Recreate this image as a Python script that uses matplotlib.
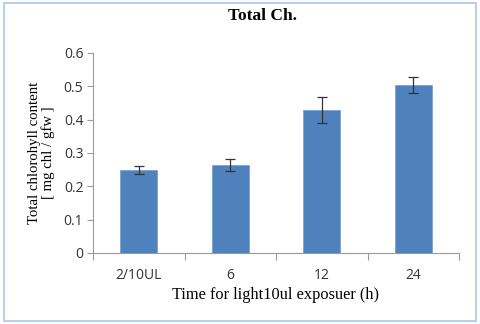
import matplotlib.pyplot as plt
from matplotlib.patches import Rectangle

categories = ["2/10UL", "6", "12", "24"]
values = [0.249, 0.264, 0.429, 0.503]
errors = [0.011, 0.018, 0.040, 0.024]

fig = plt.figure(figsize=(4.8, 3.24), dpi=100)
ax = fig.add_axes([93 / 480, 1 - 253 / 324, (459 - 93) / 480, 200 / 324])

x = range(len(categories))
ax.bar(x, values, width=0.4, color="#4F81BD", edgecolor="#7BA2D2", linewidth=0.6,
       yerr=errors, error_kw=dict(ecolor="#333333", elinewidth=0.9, capsize=3.5, capthick=0.9))

ax.set_xlim(-0.5, len(categories) - 0.5)
ax.set_ylim(0, 0.6)
ax.set_yticks([0, 0.1, 0.2, 0.3, 0.4, 0.5, 0.6])
ax.set_yticklabels(["0", "0.1", "0.2", "0.3", "0.4", "0.5", "0.6"])
ax.set_xticks(list(x))
ax.set_xticklabels(categories)
ax.set_xticks([i - 0.5 for i in range(len(categories) + 1)], minor=True)
ax.tick_params(axis="x", which="major", length=0, pad=11)
ax.tick_params(axis="x", which="minor", length=5, color="#999999", width=0.8)
ax.tick_params(axis="y", length=4, color="#999999", width=0.8, pad=3)
for lab in ax.get_xticklabels() + ax.get_yticklabels():
    lab.set_fontfamily("Open Sans")
    lab.set_fontsize(10)
    lab.set_color("#333333")

for s in ["top", "right"]:
    ax.spines[s].set_visible(False)
for s in ["left", "bottom"]:
    ax.spines[s].set_color("#999999")
    ax.spines[s].set_linewidth(0.8)

ax.set_xlabel("Time for light10ul exposuer (h)", family="Liberation Serif", fontsize=11.8, labelpad=3)
ax.set_ylabel("Total chlorohyll content\n[ mg chl / gfw ]", family="Liberation Serif",
              fontsize=10.6, labelpad=6, linespacing=1.05)
fig.text(263 / 480, 1 - 16 / 324, "Total Ch.", family="Liberation Serif", fontsize=12.5,
         fontweight="bold", ha="center", va="center")

fig.patches.append(Rectangle((4 / 480, 3 / 324), 472 / 480, 318 / 324, transform=fig.transFigure,
                             fill=False, edgecolor="#A8C8E8", linewidth=1.2))

fig.savefig("out.png", dpi=100)
